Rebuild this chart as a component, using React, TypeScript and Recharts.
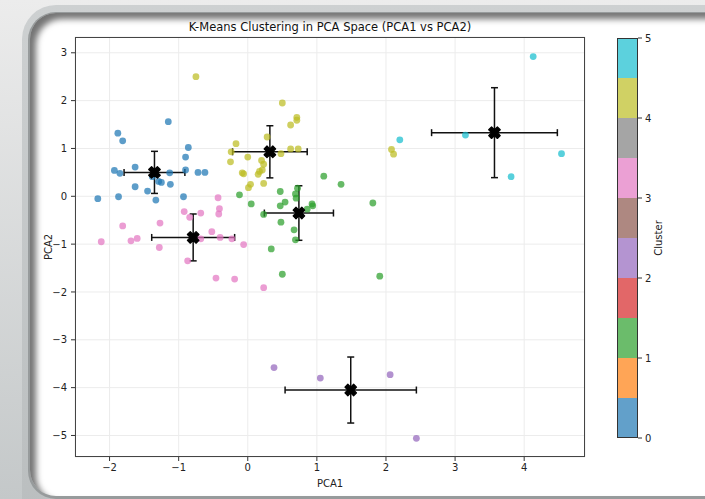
import React from "react";
import {
  ScatterChart,
  Scatter,
  XAxis,
  YAxis,
  CartesianGrid,
  ErrorBar,
  BarChart,
  Bar,
} from "recharts";

// cluster members (PCA1 / PCA2)
const cluster0X = [-1.15, -1.88, -1.81, -0.86, -0.9, -1.63, -1.93, -1.85, -1.13, -0.9, -0.72, -0.62, -1.38, -1.29, -1.25, -1.12, -1.63, -1.45, -1.87, -1.33, -0.93, -2.17];
const cluster0Y = [1.56, 1.32, 1.16, 1.02, 0.82, 0.61, 0.54, 0.48, 0.49, 0.55, 0.5, 0.5, 0.41, 0.31, 0.29, 0.25, 0.2, 0.11, -0.01, -0.08, -0.01, -0.05];

const cluster1X = [-0.12, 0.05, 0.23, 0.47, 0.69, 0.72, 0.7, 0.54, 0.47, 0.93, 0.94, 0.86, 1.35, 1.81, 0.48, 0.67, 0.69, 0.34, 0.5, 1.91, 1.1];
const cluster1Y = [0.03, -0.16, -0.38, 0.1, 0.05, 0.17, -0.04, -0.12, -0.2, -0.16, -0.2, -0.27, 0.25, -0.14, -0.54, -0.7, -0.91, -1.1, -1.63, -1.67, 0.42];

const cluster2X = [0.38, 1.05, 2.06, 2.44];
const cluster2Y = [-3.58, -3.8, -3.73, -5.06];

const cluster3X = [-2.12, -1.81, -1.69, -1.6, -1.27, -1.28, -0.92, -0.84, -0.68, -0.41, -0.42, -0.52, -0.68, -0.4, -0.23, -0.06, -0.87, -0.46, -0.19, 0.23, -0.43];
const cluster3Y = [-0.95, -0.62, -0.93, -0.88, -0.56, -1.07, -0.32, -0.44, -0.35, -0.26, -0.37, -0.74, -0.89, -0.86, -0.89, -1.01, -1.35, -1.71, -1.73, -1.91, -0.03];

const cluster4X = [0.5, 0.71, 0.71, 0.62, 0.28, -0.17, -0.24, 0.62, 0.73, 0.48, 0.0, -0.25, 0.2, 0.23, 0.21, 0.17, 0.15, -0.08, -0.06, 0.23, 0.04, 0.01, -0.75, 2.08, 2.11];
const cluster4Y = [1.95, 1.65, 1.59, 1.49, 1.24, 1.1, 0.93, 0.99, 0.99, 0.89, 0.82, 0.72, 0.75, 0.67, 0.55, 0.52, 0.46, 0.49, 0.47, 0.27, 0.25, 0.18, 2.5, 0.98, 0.88];

const cluster5X = [4.13, 3.15, 4.54, 3.81, 2.2];
const cluster5Y = [2.92, 1.28, 0.89, 0.41, 1.18];

// centroids with std error bars
const centroidX = [-1.35, 0.74, 1.49, -0.79, 0.32, 3.57];
const centroidY = [0.5, -0.35, -4.05, -0.86, 0.93, 1.33];
const centroidXErr = [0.44, 0.5, 0.95, 0.6, 0.54, 0.91];
const centroidYErr = [0.44, 0.57, 0.69, 0.49, 0.545, 0.94];

const xTicks = [-2, -1, 0, 1, 2, 3, 4];
const yTicks = [-5, -4, -3, -2, -1, 0, 1, 2, 3];
const colorbarTicks = [0, 1, 2, 3, 4, 5];

// tab10
const tab10 = ["#1f77b4", "#ff7f0e", "#2ca02c", "#d62728", "#9467bd", "#8c564b", "#e377c2", "#7f7f7f", "#bcbd22", "#17becf"];
const clusterColors = [tab10[0], tab10[2], tab10[4], tab10[6], tab10[8], tab10[9]];

const clusters = [
  [cluster0X, cluster0Y],
  [cluster1X, cluster1Y],
  [cluster2X, cluster2Y],
  [cluster3X, cluster3Y],
  [cluster4X, cluster4Y],
  [cluster5X, cluster5Y],
].map(([xs, ys]) => xs.map((x, i) => ({ x, y: ys[i] })));

const centroids = centroidX.map((x, i) => ({
  x,
  y: centroidY[i],
  xerr: centroidXErr[i],
  yerr: centroidYErr[i],
}));

const colorbarRow = [
  tab10.reduce((acc: Record<string, number | string>, _, i) => {
    acc["s" + i] = 0.5;
    return acc;
  }, { name: "cb" } as Record<string, number | string>),
];

const fmt = (v: number) => String(v).replace("-", "\u2212");
const tickStyle = { fontSize: 10, fill: "#222" };

const Dot = (color: string) => (props: any) => {
  const { cx, cy } = props;
  if (cx == null || cy == null) return null;
  return <circle cx={cx} cy={cy} r={3.4} fill={color} fillOpacity={0.72} />;
};

// matplotlib's filled "X" outline
const xPath = [
  [-1, -2], [0, -1], [1, -2], [2, -1], [1, 0], [2, 1],
  [1, 2], [0, 1], [-1, 2], [-2, 1], [-1, 0], [-2, -1],
];

const CentroidMark = (props: any) => {
  const { cx, cy } = props;
  if (cx == null || cy == null) return null;
  const u = 2.9;
  const pts = xPath.map(([px, py]) => `${cx + px * u},${cy + py * u}`).join(" ");
  return <polygon points={pts} fill="#000" stroke="#000" strokeWidth={1.2} strokeLinejoin="round" />;
};

const XLabel = (props: any) => {
  const { x, y, width, height } = props.viewBox;
  return (
    <text x={x + width / 2} y={y + height - 12} textAnchor="middle" fontSize={10} fill="#222">
      PCA1
    </text>
  );
};

const YLabel = (props: any) => {
  const { y, height } = props.viewBox;
  const cy = y + height / 2;
  return (
    <text
      x={48}
      y={cy}
      transform={`rotate(-90, 48, ${cy})`}
      textAnchor="middle"
      dominantBaseline="central"
      fontSize={10}
      fill="#222"
    >
      PCA2
    </text>
  );
};

const CbLabel = (props: any) => {
  const { x, y, height } = props.viewBox;
  const cx = x + 20;
  const cy = y + height / 2;
  return (
    <text
      x={cx}
      y={cy}
      transform={`rotate(-90, ${cx}, ${cy})`}
      textAnchor="middle"
      dominantBaseline="central"
      fontSize={10}
      fill="#222"
    >
      Cluster
    </text>
  );
};

export default function App() {
  return (
    <div
      style={{
        position: "absolute",
        left: 0,
        top: 0,
        width: 705,
        height: 499,
        overflow: "hidden",
        fontFamily: "DejaVu Sans",
        background: "linear-gradient(#ececec, #c4c8c9)",
      }}
    >
      {/* framed panel */}
      <div
        style={{
          position: "absolute",
          left: 22,
          top: 5,
          width: 740,
          height: 540,
          borderRadius: 34,
          background: "linear-gradient(#cdd0d1, #b9bdbe)",
        }}
      />
      <div
        style={{
          position: "absolute",
          left: 30,
          top: 13,
          width: 720,
          height: 483,
          borderRadius: 26,
          background: "#fff",
          boxShadow: "inset 6px 6px 6px rgba(0,0,0,0.55), 0 1px 0 2px #979b9c",
        }}
      />

      <div
        style={{
          position: "absolute",
          left: 75,
          top: 20,
          width: 510,
          textAlign: "center",
          fontSize: 11.5,
          color: "#111",
        }}
      >
        K-Means Clustering in PCA Space (PCA1 vs PCA2)
      </div>

      <div style={{ position: "absolute", left: 0, top: 0 }}>
        <ScatterChart
          width={705}
          height={499}
          margin={{ top: 37, right: 120, bottom: 0, left: 0 }}
        >
          <CartesianGrid stroke="#ececec" strokeWidth={1} />
          <XAxis
            type="number"
            dataKey="x"
            domain={[-2.5, 4.88]}
            ticks={xTicks}
            allowDataOverflow
            height={42}
            axisLine={false}
            tickLine={{ stroke: "#333" }}
            tickSize={4}
            tickMargin={3}
            tick={tickStyle}
            tickFormatter={fmt}
            label={<XLabel />}
          />
          <YAxis
            type="number"
            dataKey="y"
            domain={[-5.45, 3.33]}
            ticks={yTicks}
            allowDataOverflow
            width={75}
            axisLine={false}
            tickLine={{ stroke: "#333" }}
            tickSize={4}
            tickMargin={4}
            tick={tickStyle}
            tickFormatter={fmt}
            label={<YLabel />}
          />
          {clusters.map((pts, i) => (
            <Scatter
              key={i}
              data={pts}
              shape={Dot(clusterColors[i])}
              isAnimationActive={false}
            />
          ))}
          <Scatter data={centroids} shape={<CentroidMark />} isAnimationActive={false}>
            <ErrorBar dataKey="xerr" direction="x" width={3.5} stroke="#111" strokeWidth={1.5} />
            <ErrorBar dataKey="yerr" direction="y" width={3.5} stroke="#111" strokeWidth={1.5} />
          </Scatter>
        </ScatterChart>
      </div>

      {/* plot frame */}
      <div
        style={{
          position: "absolute",
          left: 75,
          top: 37,
          width: 510,
          height: 420,
          boxSizing: "border-box",
          border: "1px solid #444",
          pointerEvents: "none",
        }}
      />

      {/* colorbar */}
      <div style={{ position: "absolute", left: 600, top: 0 }}>
        <BarChart
          width={80}
          height={499}
          data={colorbarRow}
          margin={{ top: 38, right: 2, bottom: 61, left: 17 }}
          barCategoryGap={0}
        >
          <XAxis dataKey="name" hide />
          <YAxis
            orientation="right"
            type="number"
            domain={[0, 5]}
            ticks={colorbarTicks}
            width={40}
            axisLine={false}
            tickLine={{ stroke: "#333" }}
            tickSize={4}
            tickMargin={3}
            tick={tickStyle}
            label={<CbLabel />}
          />
          {tab10.map((c, i) => (
            <Bar
              key={i}
              dataKey={"s" + i}
              stackId="cb"
              fill={c}
              fillOpacity={0.7}
              isAnimationActive={false}
            />
          ))}
        </BarChart>
      </div>
      <div
        style={{
          position: "absolute",
          left: 617,
          top: 38,
          width: 21,
          height: 400,
          boxSizing: "border-box",
          border: "1px solid #333",
          pointerEvents: "none",
        }}
      />
    </div>
  );
}
